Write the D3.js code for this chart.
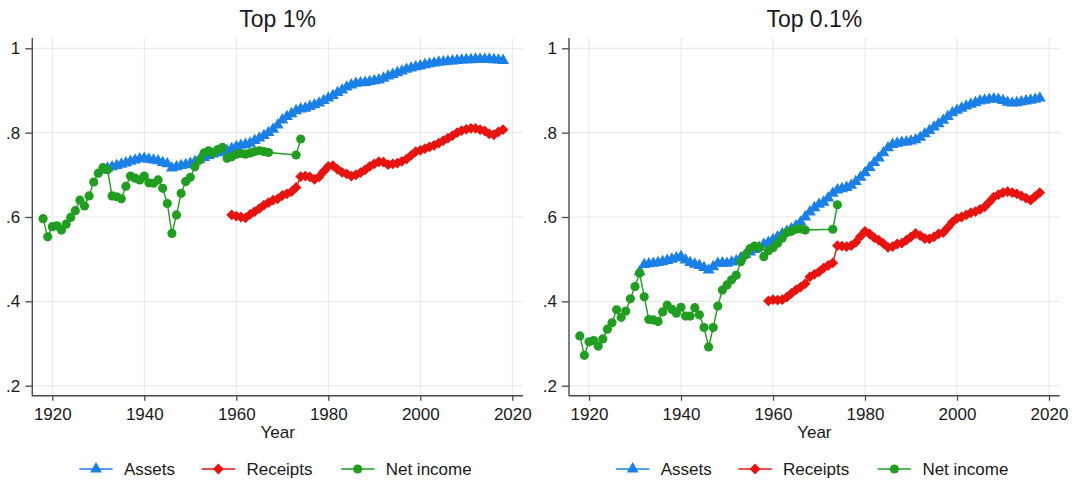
<!DOCTYPE html>
<html>
<head>
<meta charset="utf-8">
<script src="https://cdn.jsdelivr.net/npm/d3@7"></script>
<style>
  html, body { margin: 0; padding: 0; background: #fff; }
  svg { display: block; font-family: "Liberation Sans", Arial, sans-serif; }
</style>
</head>
<body>
<svg id="chart" width="1080" height="485"></svg>
<script>
// ---------------- DATA ----------------
const panelTitles = ["Top 1%", "Top 0.1%"];
const seriesNames = ["Assets", "Receipts", "Net income"];
const xTicks = [1920, 1940, 1960, 1980, 2000, 2020];
const yTicks = [0.2, 0.4, 0.6, 0.8, 1];
const yTickLabels = [".2", ".4", ".6", ".8", "1"];

const assetYears = d3.range(1931, 2019);
const receiptYears = d3.range(1959, 2019);
const netYears = [1918,1919,1920,1921,1922,1923,1924,1925,1926,1927,1928,1929,1930,1931,1932,1933,1934,1935,1936,1937,1938,1939,1940,1941,1942,1943,1944,1945,1946,1947,1948,1949,1950,1951,1952,1953,1954,1955,1956,1957,1958,1959,1960,1961,1962,1963,1964,1965,1966,1967,1973,1974];

// Top 1%
const assetsTop1 = [0.711,0.716,0.719,0.722,0.725,0.728,0.732,0.735,0.738,0.739,0.737,0.735,0.733,0.729,0.726,0.716,0.719,0.722,0.724,0.727,0.731,0.736,0.741,0.746,0.749,0.752,0.754,0.757,0.762,0.767,0.770,0.772,0.775,0.781,0.787,0.793,0.800,0.808,0.818,0.830,0.838,0.845,0.852,0.856,0.858,0.862,0.866,0.870,0.876,0.882,0.888,0.895,0.901,0.908,0.913,0.917,0.918,0.919,0.921,0.923,0.925,0.929,0.934,0.938,0.942,0.946,0.950,0.953,0.956,0.958,0.961,0.963,0.965,0.967,0.968,0.969,0.970,0.971,0.972,0.973,0.973,0.974,0.974,0.974,0.974,0.973,0.972,0.971];
const receiptsTop1 = [0.605,0.602,0.600,0.598,0.606,0.613,0.620,0.628,0.634,0.640,0.643,0.651,0.655,0.660,0.670,0.696,0.697,0.695,0.689,0.695,0.708,0.720,0.722,0.713,0.706,0.702,0.697,0.700,0.705,0.712,0.720,0.726,0.731,0.730,0.724,0.726,0.728,0.732,0.737,0.746,0.755,0.758,0.762,0.766,0.770,0.775,0.781,0.787,0.793,0.800,0.805,0.808,0.810,0.810,0.807,0.804,0.797,0.795,0.802,0.807];
const netTop1 = [0.596,0.553,0.577,0.579,0.569,0.583,0.599,0.615,0.640,0.626,0.650,0.683,0.704,0.717,0.712,0.650,0.648,0.643,0.673,0.697,0.692,0.688,0.697,0.681,0.680,0.688,0.668,0.632,0.561,0.605,0.656,0.684,0.694,0.719,0.735,0.752,0.757,0.752,0.760,0.765,0.739,0.743,0.749,0.751,0.749,0.752,0.755,0.757,0.755,0.753,0.747,0.785];

// Top 0.1%
const assetsTop01 = [0.470,0.487,0.489,0.490,0.492,0.494,0.497,0.500,0.503,0.506,0.498,0.492,0.488,0.485,0.480,0.474,0.482,0.490,0.491,0.490,0.493,0.496,0.503,0.511,0.517,0.523,0.528,0.535,0.540,0.546,0.553,0.560,0.566,0.572,0.579,0.588,0.600,0.612,0.622,0.630,0.635,0.645,0.656,0.664,0.667,0.670,0.675,0.684,0.694,0.705,0.717,0.729,0.740,0.752,0.764,0.772,0.775,0.777,0.778,0.780,0.783,0.789,0.797,0.805,0.813,0.821,0.829,0.838,0.847,0.853,0.858,0.863,0.867,0.871,0.875,0.877,0.879,0.880,0.879,0.876,0.872,0.870,0.871,0.873,0.875,0.877,0.879,0.882];
const receiptsTop01 = [0.401,0.404,0.403,0.404,0.410,0.419,0.427,0.434,0.442,0.458,0.464,0.470,0.479,0.485,0.491,0.532,0.531,0.530,0.532,0.540,0.554,0.566,0.560,0.551,0.545,0.537,0.528,0.530,0.536,0.538,0.545,0.553,0.561,0.556,0.549,0.548,0.553,0.560,0.563,0.575,0.588,0.597,0.600,0.605,0.610,0.613,0.618,0.624,0.635,0.647,0.653,0.658,0.660,0.658,0.655,0.650,0.645,0.640,0.649,0.658];
const netTop01 = [0.318,0.272,0.304,0.307,0.294,0.311,0.334,0.349,0.380,0.362,0.377,0.406,0.435,0.467,0.411,0.357,0.356,0.352,0.375,0.391,0.381,0.372,0.386,0.365,0.365,0.385,0.368,0.338,0.292,0.338,0.389,0.427,0.439,0.451,0.462,0.494,0.510,0.525,0.531,0.528,0.506,0.520,0.527,0.538,0.550,0.563,0.566,0.571,0.572,0.569,0.571,0.629];

// ---------------- STYLE ----------------
const colors = ["#1a80e8", "#e8130f", "#1f9e1f"];
const gridColor = "#e6e6e6";
const axisColor = "#4a4a4a";
const textColor = "#1a1a1a";

const svg = d3.select("#chart");

const plotW = 490.7;
const panelX = [32.3, 569];
const plotTop = 38;
const axisY = 395.7;

const x = d3.scaleLinear().domain([1920, 2020]).range([20, 480]);
const y = d3.scaleLinear().domain([0.2, 1]).range([385.7, 48.3]);

const tri = d3.symbol().type(d3.symbolTriangle).size(62);
const dia = d3.symbol().type(d3.symbolSquare).size(58);
const circ = d3.symbol().type(d3.symbolCircle).size(66);
const markerPaths = [tri(), dia(), circ()];
const markerRot = [0, 45, 0];

function drawPanel(pi, assets, receipts, net) {
  const g = svg.append("g").attr("transform", `translate(${panelX[pi]},0)`);

  // grid
  g.append("g").selectAll("line").data(yTicks).join("line")
    .attr("x1", 0).attr("x2", plotW)
    .attr("y1", d => y(d)).attr("y2", d => y(d))
    .attr("stroke", gridColor).attr("stroke-width", 1);
  g.append("g").selectAll("line").data(xTicks).join("line")
    .attr("x1", d => x(d)).attr("x2", d => x(d))
    .attr("y1", plotTop).attr("y2", axisY)
    .attr("stroke", gridColor).attr("stroke-width", 1);

  // series
  const seriesData = [
    assetYears.map((yr, i) => [yr, assets[i]]),
    receiptYears.map((yr, i) => [yr, receipts[i]]),
    netYears.map((yr, i) => [yr, net[i]])
  ];
  const line = d3.line().x(d => x(d[0])).y(d => y(d[1]));
  seriesData.forEach((data, si) => {
    const sg = g.append("g");
    sg.append("path").datum(data).attr("d", line)
      .attr("fill", "none").attr("stroke", colors[si]).attr("stroke-width", 1.4);
    sg.selectAll("path.m").data(data).join("path").attr("class", "m")
      .attr("d", markerPaths[si])
      .attr("transform", d => `translate(${x(d[0])},${y(d[1])}) rotate(${markerRot[si]})`)
      .attr("fill", colors[si]);
  });

  // axes
  const yAxis = d3.axisLeft(y).tickValues(yTicks)
    .tickFormat((d, i) => yTickLabels[i]).tickSize(7).tickSizeOuter(0).tickPadding(5);
  const ya = g.append("g").call(yAxis);
  ya.select(".domain").remove();
  ya.selectAll(".tick line").attr("stroke", axisColor).attr("stroke-width", 1.3);
  ya.selectAll(".tick text").attr("fill", textColor)
    .style("font-size", "17px").style("font-family", "Liberation Sans, Arial, sans-serif");

  const xAxis = d3.axisBottom(x).tickValues(xTicks).tickFormat(d3.format("d"))
    .tickSize(5).tickSizeOuter(0).tickPadding(7);
  const xa = g.append("g").attr("transform", `translate(0,${axisY})`).call(xAxis);
  xa.select(".domain").remove();
  xa.selectAll(".tick line").attr("stroke", axisColor).attr("stroke-width", 1.3);
  xa.selectAll(".tick text").attr("fill", textColor)
    .style("font-size", "17px").style("font-family", "Liberation Sans, Arial, sans-serif");

  g.append("line").attr("x1", 0).attr("x2", 0).attr("y1", plotTop).attr("y2", axisY + 0.6)
    .attr("stroke", axisColor).attr("stroke-width", 1.4);
  g.append("line").attr("x1", 0).attr("x2", plotW).attr("y1", axisY).attr("y2", axisY)
    .attr("stroke", axisColor).attr("stroke-width", 1.4);

  // title
  g.append("text").attr("x", plotW / 2).attr("y", 27).attr("text-anchor", "middle")
    .attr("fill", textColor).style("font-size", "23px").text(panelTitles[pi]);

  // x-axis title
  g.append("text").attr("x", plotW / 2).attr("y", 438).attr("text-anchor", "middle")
    .attr("fill", textColor).style("font-size", "17px").text("Year");

  // legend
  const legX = [47, 169.4, 308.7];
  const lg = g.append("g");
  seriesNames.forEach((name, si) => {
    const lx = legX[si];
    lg.append("line").attr("x1", lx).attr("x2", lx + 33.4).attr("y1", 469).attr("y2", 469)
      .attr("stroke", colors[si]).attr("stroke-width", 1.4);
    lg.append("path").attr("d", markerPaths[si])
      .attr("transform", `translate(${lx + 16.7},469) rotate(${markerRot[si]})`)
      .attr("fill", colors[si]);
    lg.append("text").attr("x", lx + 44.7).attr("y", 469).attr("dy", "0.35em")
      .attr("fill", textColor).style("font-size", "17px").text(name);
  });
}

drawPanel(0, assetsTop1, receiptsTop1, netTop1);
drawPanel(1, assetsTop01, receiptsTop01, netTop01);
</script>
</body>
</html>
